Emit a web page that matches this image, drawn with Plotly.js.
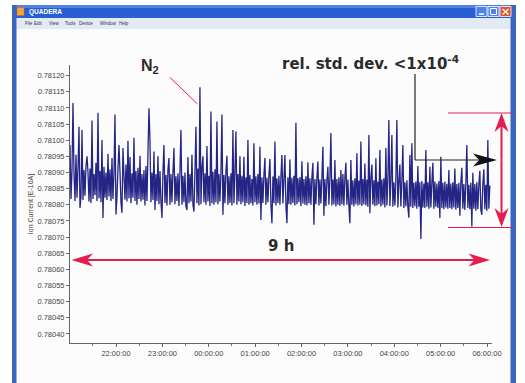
<!DOCTYPE html>
<html><head><meta charset="utf-8">
<script src="https://cdn.plot.ly/plotly-3.0.1.min.js"></script>
<style>html,body{margin:0;padding:0;background:#fff;overflow:hidden}#chart{width:525px;height:383px}</style>
</head><body><div id="chart"></div>
<script>
// ---- data ----
const sampleStart = '2000-01-01T21:00:29';
const sampleIntervalSeconds = 77.6;
const ionCurrent = [
0.780985,0.780818,0.780905,0.781115,0.780898,0.780812,0.780955,0.780822,0.780915,0.781042,
0.780790,0.780825,0.781032,0.780815,0.780908,0.780828,0.780920,0.780950,0.780902,0.780810,
0.780912,0.780806,0.781061,0.780818,0.780895,0.780830,0.780930,0.780812,0.781085,0.780820,
0.780905,0.780808,0.781001,0.780759,0.780918,0.780822,0.780900,0.780815,0.780958,0.780826,
0.780910,0.780812,0.780945,0.780818,0.780896,0.781080,0.780770,0.780825,0.780912,0.780985,
0.780902,0.780808,0.780775,0.780976,0.780890,0.780816,0.780925,0.780810,0.780998,0.780820,
0.780948,0.780805,0.780898,0.780822,0.781008,0.780812,0.780905,0.780800,0.780915,0.780818,
0.780952,0.780810,0.780895,0.780816,0.780908,0.780798,0.780920,0.780812,0.780960,0.781099,
0.781000,0.780808,0.780900,0.780815,0.780965,0.780784,0.780895,0.780812,0.780950,0.780802,
0.780905,0.780810,0.780759,0.780905,0.780985,0.780806,0.780892,0.780798,0.780910,0.780945,
0.780800,0.780895,0.780808,0.780902,0.780976,0.780802,0.780888,0.780812,0.780898,0.780796,
0.780905,0.781032,0.780800,0.780890,0.780808,0.780900,0.780795,0.780784,0.780948,0.780805,
0.780895,0.780810,0.780955,0.780800,0.780779,0.780905,0.781042,0.780805,0.780912,0.780798,
0.781164,0.780802,0.780915,0.780950,0.780808,0.780898,0.780800,0.780982,0.780810,0.780890,
0.780796,0.781089,0.780805,0.780902,0.780800,0.780910,0.780808,0.781058,0.780802,0.780895,
0.780810,0.780900,0.781080,0.780769,0.780892,0.780805,0.780905,0.780952,0.780800,0.780888,
0.780806,0.780898,0.780798,0.781032,0.780805,0.780900,0.781027,0.780800,0.780895,0.780810,
0.780950,0.780802,0.780890,0.780808,0.780949,0.780796,0.780885,0.780806,0.781001,0.780800,
0.780892,0.780805,0.780880,0.780798,0.780991,0.780808,0.780888,0.780800,0.780895,0.780804,
0.780980,0.780753,0.780885,0.780806,0.780892,0.780945,0.780800,0.780884,0.780808,0.780890,
0.780942,0.780802,0.780743,0.780888,0.780805,0.780996,0.780798,0.780882,0.780806,0.780890,
0.780800,0.780886,0.780954,0.780804,0.780880,0.780954,0.780798,0.780743,0.780885,0.780802,
0.780940,0.780800,0.780884,0.780806,0.780890,0.780798,0.781054,0.780802,0.780882,0.780808,
0.780886,0.780796,0.780935,0.780804,0.780880,0.780800,0.780888,0.780798,0.780932,0.780805,
0.780882,0.780800,0.780886,0.780930,0.780738,0.780880,0.780802,0.780884,0.780934,0.780798,
0.780878,0.780804,0.780885,0.780980,0.780766,0.780880,0.780796,0.780875,0.780918,0.780800,
0.780882,0.781022,0.780798,0.780878,0.780802,0.780939,0.780795,0.780880,0.780800,0.780885,
0.780796,0.780908,0.780802,0.780895,0.780798,0.780885,0.780930,0.780800,0.780878,0.780796,
0.780743,0.780939,0.780800,0.780876,0.780795,0.780882,0.780802,0.780960,0.780798,0.780875,
0.780800,0.780996,0.780796,0.780880,0.780802,0.780928,0.780798,0.780878,0.780794,0.781016,
0.780774,0.780882,0.780925,0.780800,0.780876,0.780796,0.780944,0.780798,0.780872,0.780802,
0.780970,0.780795,0.780878,0.780800,0.780882,0.780792,0.780976,0.780798,0.780875,0.781063,
0.780796,0.780872,0.781016,0.780794,0.780870,0.780798,0.780878,0.781063,0.780792,0.780868,
0.780925,0.780795,0.780874,0.780985,0.780790,0.780870,0.780796,0.780876,0.780792,0.780760,
0.780954,0.780794,0.780991,0.780790,0.780868,0.780796,0.780872,0.780788,0.780920,0.780794,
0.780870,0.780694,0.780874,0.780792,0.780866,0.780790,0.780970,0.780794,0.780870,0.780788,
0.780918,0.780792,0.780868,0.780930,0.780788,0.780872,0.780794,0.780866,0.780790,0.780874,
0.780759,0.780949,0.780790,0.780868,0.780786,0.780872,0.780792,0.780865,0.780788,0.780908,
0.780790,0.780866,0.780786,0.780870,0.780792,0.780912,0.780785,0.780864,0.780790,0.780868,
0.780766,0.780870,0.780915,0.780788,0.780864,0.780784,0.780868,0.780985,0.780790,0.780862,
0.780786,0.780868,0.780733,0.780899,0.780788,0.780864,0.780782,0.780870,0.780786,0.780862,
0.780905,0.780784,0.780769,0.780866,0.780910,0.780786,0.780862,0.780782,0.781001,0.780788,
0.780860
];
const xRange = ['2000-01-01 21:00:29', '2000-01-02 06:06:28'];
const yRange = [0.780372, 0.781233];
const xTickStart = '2000-01-01 22:00:00';
const yTickStart = 0.78040;
const yTickStep = 0.00005;
const yAxisTitle = 'Ion Current [E-10A]';
const windowTitle = 'QUADERA';
const menuItems = ['File', 'Edit', 'View', 'Tools', 'Device', 'Window', 'Help'];
const menuItemX = [22.5, 32, 46.5, 63, 76.5, 98, 117];
const annoN2 = 'N<sub>2</sub>';
const annoStd = 'rel. std. dev. &lt;1x10<sup>-4</sup>';
const annoDuration = '9 h';

// ---- build ----
const base = Date.parse(sampleStart + 'Z');
const times = ionCurrent.map((_, i) =>
  new Date(base + i * sampleIntervalSeconds * 1000).toISOString().replace('T', ' ').slice(0, 19));

const M = {l: 70, r: 33, t: 65, b: 40};
const W = 525, H = 383;
const pw = W - M.l - M.r, ph = H - M.t - M.b;
const px = x => (x - M.l) / pw;
const py = y => (H - M.b - y) / ph;
const rect = (x0, y0, x1, y1, fill, line) => ({type: 'rect', xref: 'paper', yref: 'paper',
  x0: px(x0), x1: px(x1), y0: py(y1), y1: py(y0), fillcolor: fill,
  line: line || {width: 0}, layer: 'below'});
const seg = (x0, y0, x1, y1, color, width) => ({type: 'line', xref: 'paper', yref: 'paper',
  x0: px(x0), x1: px(x1), y0: py(y0), y1: py(y1), line: {color: color, width: width}, layer: 'above'});
const poly = (pts, fill) => ({type: 'path', xref: 'paper', yref: 'paper',
  path: 'M' + pts.map(p => px(p[0]).toFixed(5) + ',' + py(p[1]).toFixed(5)).join(' L') + ' Z',
  fillcolor: fill, line: {width: 0}, layer: 'above'});

const RED = '#e31d4e';
const XPBLUE = '#3a64c2';
const shapes = [
  rect(12, 5, 516, 383, '#fcfcfc'),
  rect(12, 5, 516, 18, '#2a5fd2'),
  rect(12, 5, 516, 8, '#4d82e6'),
  rect(16.5, 18, 510.5, 29, '#e3eaf6'),
  rect(12, 5, 16.5, 383, XPBLUE),
  rect(510.5, 5, 516, 383, XPBLUE),
  rect(17, 7.5, 24, 15.5, '#f2a633', {color: '#c86a10', width: 0.5}),
  rect(476, 6.5, 487, 16.5, '#4f83ea', {color: '#ffffff', width: 0.8}),
  rect(488, 6.5, 499, 16.5, '#4f83ea', {color: '#ffffff', width: 0.8}),
  rect(500, 6.5, 511, 16.5, '#e2562c', {color: '#ffffff', width: 0.8}),
  seg(479, 14, 484, 14, '#ffffff', 1.5),
  {type: 'rect', xref: 'paper', yref: 'paper', x0: px(490.5), x1: px(496.5), y0: py(14.5), y1: py(8.5),
   line: {color: '#ffffff', width: 1}, fillcolor: 'rgba(0,0,0,0)', layer: 'above'},
  seg(502.5, 9, 508.5, 14.5, '#ffffff', 1.3),
  seg(508.5, 9, 502.5, 14.5, '#ffffff', 1.3),
  // N2 pointer
  seg(170, 77.5, 197.5, 104, RED, 1),
  // rel. std. dev. pointer
  seg(415, 74, 415, 160, '#222222', 1.2),
  seg(415, 160, 478, 160, '#222222', 1.2),
  poly([[497, 160], [473, 153.5], [479, 160], [473, 166.5]], '#111111'),
  // range lines and vertical double arrow
  seg(448, 113, 513, 113, RED, 1.2),
  seg(448, 227.5, 513, 227.5, RED, 1.2),
  seg(501.5, 124, 501.5, 216, RED, 2),
  poly([[501.5, 113], [494.5, 132], [501.5, 126], [508.5, 132]], RED),
  poly([[501.5, 227], [494.5, 208], [501.5, 214], [508.5, 208]], RED),
  // 9 h double arrow
  seg(82, 260, 479, 260, RED, 2),
  poly([[71.5, 260], [93, 253.5], [87, 260], [93, 266.5]], RED),
  poly([[490, 260], [468.5, 253.5], [474.5, 260], [468.5, 266.5]], RED)
];

const ann = (x, y, text, font, xanchor, yanchor) => ({xref: 'paper', yref: 'paper', x: px(x), y: py(y),
  text: text, showarrow: false, font: font, xanchor: xanchor || 'center', yanchor: yanchor || 'middle'});
const SANS = 'Liberation Sans, Arial, sans-serif';
const BOLD = 'DejaVu Sans, Liberation Sans, sans-serif';
const annotations = [
  ann(27, 12, '<b>' + windowTitle + '</b>', {family: SANS, size: 6.5, color: '#ffffff'}, 'left'),
  ...menuItems.map((m, i) => ann(menuItemX[i], 23.5, m, {family: SANS, size: 4.5, color: '#333333'}, 'left')),
  ann(139, 67, '<b>' + annoN2 + '</b>', {family: SANS, size: 16, color: '#2b2b2b'}, 'left'),
  ann(280, 63, '<b>' + annoStd + '</b>', {family: BOLD, size: 15, color: '#2b2b2b'}, 'left'),
  ann(281, 246, '<b>' + annoDuration + '</b>', {family: BOLD, size: 15, color: '#2b2b2b'})
];

const trace = {x: times, y: ionCurrent, type: 'scatter', mode: 'lines',
  line: {color: '#242585', width: 1.3, simplify: false}, hoverinfo: 'skip'};

const tickFont = {family: SANS, size: 7.5, color: '#444444'};
const layout = {
  width: W, height: H, margin: M, showlegend: false,
  paper_bgcolor: '#ffffff', plot_bgcolor: 'rgba(0,0,0,0)',
  xaxis: {type: 'date', range: xRange, tick0: xTickStart, dtick: 3600000, tickformat: '%H:%M:%S',
    ticks: 'outside', ticklen: 3, tickcolor: '#666', showline: true, linecolor: '#666', linewidth: 1,
    showgrid: false, zeroline: false, tickfont: tickFont, automargin: false,
    minor: {dtick: 1800000, tick0: xTickStart, ticks: 'outside', ticklen: 2, tickcolor: '#777', showgrid: false}},
  yaxis: {range: yRange, tick0: yTickStart, dtick: yTickStep, tickformat: '.5f',
    ticks: 'outside', ticklen: 3, tickcolor: '#666', showline: true, linecolor: '#666', linewidth: 1,
    showgrid: false, zeroline: false, tickfont: tickFont, automargin: false,
    title: {text: yAxisTitle, font: {family: SANS, size: 7, color: '#444'}, standoff: 2}},
  shapes: shapes, annotations: annotations
};
Plotly.newPlot('chart', [trace], layout, {staticPlot: true, displayModeBar: false});
</script></body></html>
